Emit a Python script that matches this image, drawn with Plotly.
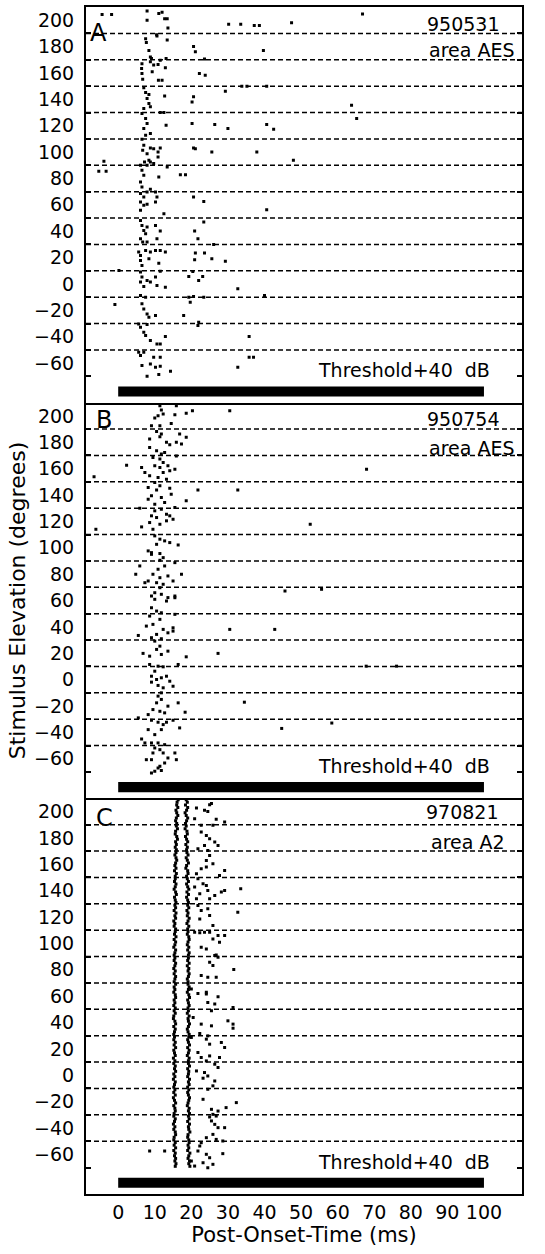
import plotly.graph_objects as go
from plotly.subplots import make_subplots

# ---------------- data ----------------
elevations = [200, 180, 160, 140, 120, 100, 80, 60, 40, 20, 0, -20, -40, -60]
grid_lines = [190, 170, 150, 130, 110, 90, 70, 50, 30, 10, -10, -30, -50]
tick_marks = [190, 170, 150, 130, 110, 90, 70, 50, 30, 10, -10, -30, -50, -70]
x_ticks = [0, 10, 20, 30, 40, 50, 60, 70, 80, 90, 100]
stim_on, stim_off = 0, 100
panel_letters = ["A", "B", "C"]
unit_ids = ["950531", "950754", "970821"]
areas = ["area AES", "area AES", "area A2"]
level_text = "Threshold+40  dB"

# Panel A spikes: (post-onset time ms, raster elevation position)
A_spikes = [
    (-4.4, 204.4), (-1.8, 204.4), (7.9, 207), (7.9, 200), (11.1, 205), (12.0, 206), (12.7, 201), (13.4, 201),
    (13.6, 194), (30.2, 197), (33.5, 197), (37.2, 196), (38.6, 196), (47.4, 198), (66.8, 204.7),
    (7.5, 186), (7.7, 183), (10.6, 188), (13.4, 185), (8.4, 177), (8.8, 172), (20.6, 180), (21.1, 176),
    (39.7, 177), (10.5, 189),
    (6.5, 167), (6.4, 163.4), (6.5, 159.6), (6.7, 155.3), (8.8, 168.5), (9.7, 166), (10.9, 166.4), (11.5, 169.7),
    (13.1, 171), (12.9, 164), (9.3, 161), (11.0, 154.5), (12.0, 154.5), (9.1, 171), (23.6, 170.5), (22.2, 159.6),
    (23.8, 158.3),
    (7.0, 148.7), (7.5, 145.2), (8.4, 143.7), (7.9, 140.6), (8.4, 136.8), (7.0, 133), (8.8, 134.3), (12.7, 142.6),
    (20.6, 141.9), (20.2, 138), (29.3, 146.2), (33.8, 150), (35.2, 150), (40.6, 150), (63.8, 135.6),
    (6.5, 129.2), (7.5, 125.4), (7.9, 121.6), (7.0, 117.8), (8.8, 114), (11.5, 130), (12.5, 130), (13.1, 120.4),
    (20.2, 121.6), (26.4, 120.9), (30.0, 117.8), (40.6, 120.9), (42.5, 117.3), (7.5, 112.8), (65.2, 125.4),
    (6.5, 109.7), (7.0, 105.2), (6.7, 101.4), (7.9, 98.8), (8.8, 103.1), (9.7, 102.6), (10.9, 100.1), (11.5, 103.1),
    (10.9, 96.3), (8.4, 93.8), (20.6, 103.1), (21.1, 102.6), (25.6, 100.1), (37.9, 100.1), (7.2, 92.5), (47.9, 93.8),
    (-3.9, 93), (-5.3, 85.4), (-3.3, 85.4), (6.1, 90), (6.5, 86.2), (7.0, 82.4), (6.1, 77.3), (7.9, 90), (9.7, 91.3),
    (13.4, 88.7), (11.1, 81.1), (17.0, 82.9), (18.4, 82.9), (6.5, 73.5), (8.8, 92.5),
    (6.1, 68.5), (7.0, 66), (7.9, 69.7), (8.8, 71.8), (10.2, 69.7), (10.6, 66), (20.6, 66), (23.4, 62.6),
    (6.1, 62.1), (7.0, 59.6), (7.9, 60.4), (10.2, 62.1), (6.1, 55.8), (12.5, 53.3), (40.6, 56.3),
    (6.1, 48.2), (6.5, 44.4), (7.0, 40.6), (7.5, 38.1), (6.1, 34.3), (7.9, 43.1), (10.2, 44.4), (11.5, 40.1),
    (10.6, 34.3), (7.9, 31.8), (20.9, 40.1), (21.8, 34.3), (23.4, 46.9), (6.7, 31.8), (26.1, 30),
    (5.6, 24.2), (6.1, 21.6), (6.1, 17.8), (6.5, 14), (7.5, 25.4), (8.8, 24.2), (10.2, 25.4), (11.5, 25.4),
    (12.9, 24.2), (11.1, 15.8), (21.1, 23.4), (23.6, 23.4), (20.9, 18.3), (25.6, 19.1), (29.3, 17.3), (8.4, 19.1),
    (0.2, 10.2), (6.1, 9), (6.5, 5.2), (6.1, 1.4), (7.0, -1.9), (7.9, 2.6), (8.8, 1.4), (10.2, 5.2), (10.6, -1.2),
    (12.9, -2.4), (11.5, 9.7), (19.3, 5.7), (20.4, 9.5), (22.0, 2.6), (23.1, 5.7), (32.7, -3.7),
    (-0.9, -15.6), (6.1, -8.8), (7.5, -10), (6.5, -15), (7.0, -18.9), (7.9, -22.7), (8.4, -25.2), (10.2, -24),
    (19.3, -10), (19.7, -13.8), (20.6, -9.5), (17.9, -24), (22.0, -29), (23.4, -10), (40.0, -8.8),
    (5.6, -30.3), (6.1, -32.8), (7.0, -36.6), (7.5, -39.1), (7.9, -30.8), (8.8, -42.9), (10.6, -45.5),
    (11.5, -45.5), (12.9, -39.9), (21.8, -31.5), (35.8, -39.9),
    (5.6, -51.8), (6.1, -54.3), (7.0, -51.8), (9.7, -55.6), (11.5, -55.6), (6.5, -61.9), (8.8, -60.7),
    (10.2, -63.2), (11.5, -62.4), (7.9, -70), (11.1, -68.7), (14.3, -66.2), (32.7, -63.2), (35.8, -55.6),
    (37.0, -55.6),
]

# Panel B spikes
B_spikes = [
    (11.4, 207.7), (11.8, 204.4), (10.9, 200.1), (10.0, 198.3), (12.3, 201.4), (15.9, 207.7), (15.5, 200.9),
    (14.5, 194.3), (18.6, 201.9), (20.3, 203.9), (30.5, 203.9), (9.1, 192.5), (11.4, 192.5),
    (10.5, 188.2), (11.8, 186.2), (11.4, 184.2), (8.6, 182.4), (13.2, 179.9), (14.1, 178.1), (15.9, 179.9),
    (17.3, 178.6), (18.6, 183.7), (16.8, 186.2), (8.6, 176), (10.5, 173.5), (11.8, 171), (12.7, 172.3),
    (15.9, 169.5),
    (9.5, 168.5), (11.4, 167.2), (12.3, 164.7), (10.0, 162.1), (6.4, 160.9), (2.3, 162.6), (11.4, 160.9),
    (13.6, 162.1), (14.1, 158.3), (12.3, 157.1), (8.6, 154.5), (10.9, 153.3), (13.2, 152), (-6.6, 153.8),
    (7.3, 157.1), (15.5, 159.6), (67.9, 159.6),
    (10.0, 149.5), (11.4, 147), (8.2, 145.7), (10.5, 143.7), (14.1, 145.2), (14.5, 140.6), (9.1, 139.4),
    (11.8, 138.1), (8.2, 136.8), (12.7, 134.3), (18.6, 135.6), (21.8, 143.7), (32.7, 143.7), (10.0, 133),
    (5.9, 130), (10.0, 128), (11.8, 129.2), (9.1, 124.2), (10.5, 122.9), (13.2, 125.4), (14.1, 124.2),
    (15.5, 130.5), (8.6, 119.1), (11.4, 117.8), (13.2, 120.4), (6.4, 115.8), (9.5, 114), (-6.1, 114),
    (15.0, 121.6), (52.5, 117.8),
    (10.0, 109), (11.4, 106.5), (12.7, 105.2), (14.1, 103.9), (10.5, 102.6), (16.4, 102.1), (8.2, 97.6),
    (9.1, 95), (11.4, 95.6), (12.3, 92.5), (9.1, 96.3),
    (11.4, 90.5), (15.5, 88.7), (5.9, 86.2), (10.9, 83.7), (12.7, 86.2), (9.5, 79.9), (13.6, 78.6),
    (17.3, 79.9), (4.8, 79.9), (8.2, 74.8), (7.3, 73.5), (10.5, 73.5), (12.3, 72.3), (15.0, 74.8), (11.4, 77.3),
    (10.0, 65.9), (9.1, 63.4), (11.8, 64.7), (13.6, 62.2), (15.5, 63.4), (11.4, 69.7), (45.6, 67.2),
    (55.6, 68.5), (10.0, 60.9), (13.2, 59.6), (9.1, 54.5), (10.5, 52), (11.8, 50.7), (15.5, 49.5), (15.5, 62.1),
    (8.6, 48.2), (11.4, 45.7), (9.5, 41.9), (15.0, 39.3), (15.0, 36.8), (12.3, 38.1), (10.5, 34.3), (5.5, 33.5),
    (9.1, 31.8), (11.8, 31), (13.6, 35.5), (30.5, 38.1), (42.8, 38.1), (7.7, 40.6),
    (10.0, 29.2), (11.4, 25.4), (10.5, 22.9), (6.8, 19.9), (8.6, 17.8), (11.8, 19.1), (13.6, 21.6),
    (18.6, 17.3), (27.3, 19.9), (8.6, 11.5), (10.9, 10.2), (12.3, 9.7), (16.4, 11.5), (67.8, 10.2), (76.1, 10.2),
    (9.1, 2.6), (10.5, 0.1), (11.8, 1.4), (13.2, 2.6), (9.1, -1.9), (10.9, -4.4), (12.3, -6.2), (14.1, -1.2),
    (15.0, -5), (10.0, 6.4), (11.8, -10),
    (10.9, -12.5), (11.8, -15), (10.5, -17.6), (16.4, -17.6), (9.5, -22.7), (11.4, -24), (8.2, -26.5),
    (12.7, -25.2), (18.3, -24.7), (5.5, -29), (34.5, -17.1), (13.6, -20.1),
    (9.1, -30.8), (10.9, -32.3), (12.3, -34.1), (13.2, -32.3), (15.0, -30.8), (8.2, -37.9), (11.8, -37.9),
    (16.8, -36.6), (10.0, -41.7), (6.4, -45), (7.3, -48), (9.1, -48), (10.9, -48), (12.7, -49.3),
    (44.7, -37), (58.4, -32.9),
    (10.0, -51.8), (11.4, -53.1), (9.5, -55.6), (12.3, -55.6), (13.6, -59.4), (15.5, -55.6), (7.7, -60.7),
    (9.1, -60.7), (12.7, -63.2), (11.4, -65.7), (10.0, -69.5), (9.1, -70.8), (11.8, -68.8), (15.9, -60.7),
    (10.9, -67),
]

# Panel C: first and second spike latency of each of 10 trials per elevation (top trial first)
C_first = [
    16.4, 16.1, 16.0, 16.3, 15.8, 16.0, 16.3, 15.9, 15.7, 16.0,
    15.9, 16.2, 15.7, 15.6, 16.0, 16.2, 15.7, 15.9, 15.6, 15.9,
    15.8, 15.5, 15.8, 16.0, 15.7, 15.5, 15.8, 15.4, 15.9, 15.6,
    15.6, 15.4, 15.8, 15.6, 15.3, 15.7, 15.9, 15.4, 15.6, 15.8,
    15.5, 15.7, 15.3, 15.8, 15.5, 15.7, 15.2, 15.5, 15.3, 15.7,
    15.6, 15.4, 15.8, 15.3, 15.7, 15.5, 15.2, 15.7, 15.5, 15.3,
    15.5, 15.3, 15.7, 15.5, 15.2, 15.6, 15.3, 15.7, 15.5, 15.3,
    15.7, 15.3, 15.5, 15.2, 15.6, 15.7, 15.3, 15.5, 15.2, 15.6,
    15.3, 15.6, 15.2, 15.1, 15.5, 15.7, 15.2, 15.6, 15.4, 15.2,
    15.4, 15.2, 15.6, 15.3, 15.7, 15.2, 15.4, 15.6, 15.1, 15.5,
    15.2, 15.6, 15.4, 15.7, 15.2, 15.5, 15.1, 15.6, 15.4, 15.2,
    15.5, 15.2, 15.6, 15.1, 15.4, 15.7, 15.2, 15.5, 15.6, 15.3,
    15.2, 15.6, 15.4, 15.1, 15.5, 15.2, 15.6, 15.7, 15.3, 15.2,
    15.6, 15.3, 15.7, 15.2, 15.6, 15.4, 15.7, 15.5, 15.8, 15.6,
]
C_second = [
    18.6, 18.9, 18.4, 19.0, 18.7, 18.3, 18.6, 19.0, 18.7, 18.4,
    18.6, 18.3, 18.8, 18.9, 18.4, 18.7, 19.0, 18.5, 18.9, 18.7,
    18.8, 19.1, 18.6, 18.9, 19.2, 18.7, 18.5, 19.0, 19.1, 18.7,
    18.9, 19.2, 18.7, 19.0, 19.3, 18.8, 19.2, 18.7, 19.0, 19.2,
    19.0, 19.3, 18.8, 19.1, 18.9, 19.4, 19.1, 18.8, 19.3, 19.0,
    19.1, 18.9, 19.3, 19.4, 19.1, 18.9, 19.3, 19.0, 19.4, 19.2,
    19.2, 19.0, 19.4, 18.9, 19.3, 19.1, 19.4, 19.2, 18.9, 19.1,
    19.1, 19.4, 19.2, 18.9, 19.3, 19.5, 19.0, 19.2, 19.4, 19.1,
    19.2, 18.9, 19.4, 19.1, 19.2, 19.5, 19.2, 18.9, 19.1, 19.4,
    19.3, 19.0, 19.2, 19.5, 19.0, 19.4, 19.2, 18.9, 19.4, 19.2,
    19.2, 19.5, 19.0, 19.3, 19.2, 19.0, 19.5, 19.2, 19.4, 19.0,
    19.3, 19.0, 19.2, 19.5, 19.3, 19.1, 18.9, 19.4, 19.2, 19.5,
    19.2, 19.4, 19.0, 19.5, 19.2, 19.3, 19.6, 19.1, 19.0, 19.3,
    19.4, 19.1, 19.3, 19.0, 19.6, 19.3, 19.1, 19.5, 19.3, 19.6,
]
C_extra = [
    (21.4, 202.7), (23.6, 200.9), (24.5, 200.1), (25.0, 205.2), (25.5, 206), (26.8, 194.1), (29.1, 192),
    (22.7, 189.5), (20.9, 194.6), (25.9, 189.5),
    (24.1, 181.9), (25.0, 179.4), (26.4, 176.9), (27.3, 174.3), (23.6, 174.3), (21.8, 171.8), (24.5, 170.5),
    (22.7, 184.5),
    (25.0, 166.7), (24.1, 162.9), (25.9, 160.4), (22.7, 156.6), (24.1, 157.9), (21.4, 152.8), (29.1, 155.3),
    (27.7, 151.5),
    (21.8, 149), (23.2, 145.2), (24.1, 144), (24.5, 140.2), (26.4, 136.4), (28.2, 138.9), (29.1, 140.2),
    (33.5, 141.4), (22.3, 137.6), (25.0, 133.8), (20.9, 142.7),
    (21.8, 128.8), (22.7, 125), (24.5, 126.2), (25.0, 121.2), (22.3, 118.6), (32.7, 123.7), (25.9, 113.6),
    (21.4, 133.8),
    (20.9, 108.5), (22.3, 108), (23.6, 108.5), (25.0, 108.5), (27.3, 106), (29.1, 106), (22.7, 97.1),
    (24.1, 95.8), (25.9, 103.4), (27.7, 100.9), (26.8, 91.3),
    (26.4, 90.8), (27.3, 89.5), (25.0, 85.7), (25.9, 83.2), (22.7, 75.6), (24.5, 74.3), (31.6, 80.2),
    (26.8, 74.3),
    (20.0, 65.5), (24.1, 63), (21.8, 62.1), (24.1, 61.6), (27.3, 59.5), (24.5, 55.2), (26.4, 54), (31.4, 51.4),
    (25.5, 48.9),
    (20.5, 43.8), (22.7, 38.8), (25.5, 37.5), (30.0, 41.3), (31.4, 38.8), (31.4, 35.7), (22.3, 31.7),
    (24.5, 29.9),
    (20.0, 28.7), (24.1, 27.4), (25.0, 23.6), (28.2, 24.9), (29.1, 21.1), (21.8, 17.3), (22.7, 13.5),
    (24.1, 10.9), (25.0, 14.7), (26.4, 8.4), (27.7, 13.5),
    (21.4, 3.3), (23.6, 2.1), (24.5, -0.5), (23.2, -2.2), (26.4, -4.3), (25.9, -8), (24.5, -10.6), (27.3, 5.9),
    (23.2, -18.2), (25.5, -25.8), (25.9, -29.6), (27.3, -27.1), (29.5, -24.5), (32.3, -20.7), (25.0, -31.6),
    (26.8, -30.9),
    (25.5, -34.6), (26.4, -37.2), (27.3, -39.7), (29.1, -39.7), (24.1, -47.3), (25.9, -44.8), (26.8, -48.6),
    (28.6, -49.8), (22.7, -51.1),
    (8.6, -57.4), (12.7, -57.4), (22.3, -53.6), (24.1, -59.9), (25.0, -62.5), (23.2, -66.3), (20.9, -68.8),
    (21.8, -57.4), (24.5, -70.1), (28.6, -59.4), (25.9, -67.5), (20.0, -65),
]
trials_per_elevation = 10

# ---------------- figure ----------------
FONT = "DejaVu Sans"
W, H = 545, 1254
fig = make_subplots(rows=3, cols=1, shared_xaxes=True, vertical_spacing=0)

def add_points(pts, row):
    xs = [p[0] for p in pts]
    ys = [p[1] for p in pts]
    fig.add_trace(go.Scatter(x=xs, y=ys, mode="markers",
                             marker=dict(symbol="square", size=3, color="black", line=dict(width=0)),
                             showlegend=False, hoverinfo="skip"), row=row, col=1)

add_points(A_spikes, 1)
add_points(B_spikes, 2)

# Panel C rasters: trial rows inside each 20-degree band
c_pts = []
for i, elev in enumerate(elevations):
    for k in range(trials_per_elevation):
        yrow = elev + 9 - 2 * k
        c_pts.append((C_first[i * trials_per_elevation + k], yrow))
        c_pts.append((C_second[i * trials_per_elevation + k], yrow))
add_points(c_pts + C_extra, 3)

domains = [[2 / 3, 1.0], [1 / 3, 2 / 3], [0.0, 1 / 3]]
ranges_y = [-90, 210]
x_range = [-8.8, 110.4]

for r in range(3):
    sfx = "" if r == 0 else str(r + 1)
    yref = "y" + sfx
    xref = "x" + sfx
    fig.update_yaxes(row=r + 1, col=1, domain=domains[r], range=ranges_y,
                     tickvals=elevations, ticks="", showgrid=False, zeroline=False,
                     showline=True, linewidth=2, linecolor="black", mirror="ticks",
                     tickfont=dict(family=FONT, size=19, color="black"),
                     ticklabelstandoff=6,
                     minor=dict(tickvals=tick_marks, ticks="inside", ticklen=5,
                                tickwidth=1.5, tickcolor="black", showgrid=False))
    fig.update_xaxes(row=r + 1, col=1, range=x_range, tickvals=x_ticks, ticks="",
                     showgrid=False, zeroline=False, showline=True, linewidth=2,
                     linecolor="black", mirror=(r == 0),
                     showticklabels=(r == 2),
                     tickfont=dict(family=FONT, size=19, color="black"))
    # dashed separators between elevation bands
    for g in grid_lines:
        fig.add_shape(type="line", xref=xref + " domain", yref=yref, x0=0, x1=1, y0=g, y1=g,
                      line=dict(color="black", width=1.5, dash="5px,3px"), layer="below")
    # stimulus bar
    fig.add_shape(type="rect", xref=xref, yref=yref, x0=stim_on, x1=stim_off, y0=-85.3, y1=-77.7,
                  fillcolor="black", line=dict(width=0))
    fig.add_annotation(xref=xref, yref=yref, x=102.2, y=-65.6, text=level_text, showarrow=False,
                       xanchor="right", yanchor="middle", font=dict(family=FONT, size=19, color="black"))
    fig.add_annotation(xref=xref, yref=yref, x=[104.9, 104.9, 104.6][r], y=[197, 197.7, 200][r],
                       text=unit_ids[r], showarrow=False, xanchor="right", yanchor="middle",
                       font=dict(family=FONT, size=19, color="black"))
    fig.add_annotation(xref=xref, yref=yref, x=[108.7, 108.7, 106.3][r], y=[177.4, 176, 176.8][r],
                       text=areas[r], showarrow=False, xanchor="right", yanchor="middle",
                       font=dict(family=FONT, size=19, color="black"))
    fig.add_annotation(xref=xref, yref=yref, x=[-5.5, -4.0, -3.8][r], y=[190, 197, 195][r],
                       text=panel_letters[r], showarrow=False, xanchor="center", yanchor="middle",
                       font=dict(family=FONT, size=24, color="black"))

fig.update_xaxes(row=3, col=1, title=dict(text="Post-Onset-Time (ms)", standoff=6,
                                          font=dict(family=FONT, size=21, color="black")))
fig.update_yaxes(row=2, col=1, title=dict(text="Stimulus Elevation (degrees)", standoff=2,
                                          font=dict(family=FONT, size=22, color="black")))

fig.update_layout(width=W, height=H, margin=dict(l=86, r=23, t=7, b=60, autoexpand=False),
                  plot_bgcolor="white", paper_bgcolor="white", showlegend=False)

fig.write_html("out.html")
